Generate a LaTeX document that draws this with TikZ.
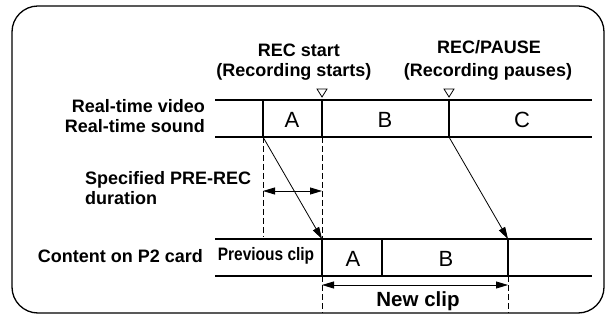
\documentclass[tikz,border=0pt]{standalone}
\usepackage{fontspec}
\setmainfont{Liberation Sans}
\usetikzlibrary{arrows.meta}
\begin{document}
\begin{tikzpicture}[x=1pt,y=-1pt,
  rowline/.style={line width=2pt},
  divider/.style={line width=2pt},
  lbl/.style={font=\fontsize{18}{20}\selectfont\bfseries, inner sep=0pt},
  seg/.style={font=\fontsize{22}{24}\selectfont, inner sep=0pt},
  arr/.style={-{Triangle[length=12pt,width=7pt]}, line width=0.8pt},
  dblarr/.style={{Triangle[length=12pt,width=7pt]}-{Triangle[length=12pt,width=7pt]}, line width=0.8pt},
  dashline/.style={dash pattern=on 6pt off 3pt, line width=0.8pt},
  marker/.style={line width=0.8pt},
  framestyle/.style={line width=1.3pt}
]
\useasboundingbox (0,0) rectangle (610,320);
\draw[framestyle] (38,6) -- (578,6) .. controls (592.4,6) and (604,17.6) .. (604,32)
  -- (604,287) .. controls (604,301.4) and (592.4,313) .. (578,313)
  -- (38,313) .. controls (23.6,313) and (12,301.4) .. (12,287)
  -- (12,32) .. controls (12,17.6) and (23.6,6) .. (38,6) -- cycle;

% top rows
\coordinate (t1L) at (215,100); \coordinate (t1R) at (592,100);
\coordinate (t2L) at (215,137); \coordinate (t2R) at (592,137);
\draw[rowline] (t1L) -- (t1R);
\draw[rowline] (t2L) -- (t2R);
\coordinate (ta1) at (263,100); \coordinate (ta2) at (263,137);
\coordinate (tb1) at (322,100); \coordinate (tb2) at (322,137);
\coordinate (tc1) at (449,100); \coordinate (tc2) at (449,137);
\draw[divider] (ta1) -- (ta2);
\draw[divider] (tb1) -- (tb2);
\draw[divider] (tc1) -- (tc2);
\node[seg, anchor=base] (tA) at (292,128) {A};
\node[seg, anchor=base] (tB) at (385,128) {B};
\node[seg, anchor=base] (tC) at (522,128) {C};

% markers
\coordinate (m1) at (322,97); \coordinate (m2) at (449,97);
\draw[marker] (m1) ++(-5,-8) -- ++(10,0) -- (m1) -- cycle;
\draw[marker] (m2) ++(-5,-8) -- ++(10,0) -- (m2) -- cycle;

% bottom rows
\coordinate (b1L) at (215,239); \coordinate (b1R) at (592,239);
\coordinate (b2L) at (215,276); \coordinate (b2R) at (592,276);
\draw[rowline] (b1L) -- (b1R);
\draw[rowline] (b2L) -- (b2R);
\coordinate (ba1) at (322,239); \coordinate (ba2) at (322,276);
\coordinate (bb1) at (382,239); \coordinate (bb2) at (382,276);
\coordinate (bc1) at (508,239); \coordinate (bc2) at (508,276);
\draw[divider] (ba1) -- (ba2);
\draw[divider] (bb1) -- (bb2);
\draw[divider] (bc1) -- (bc2);
\node[lbl, anchor=base] (prev) at (266,261) {\scalebox{0.86}[1]{Previous clip}};
\node[seg, anchor=base] (bA) at (353,267) {A};
\node[seg, anchor=base] (bB) at (446,267) {B};

% dashed guides
\coordinate (d1) at (263,237);
\coordinate (d3) at (322,313);
\coordinate (d4) at (508,313);
\draw[dashline] (ta2) -- (d1);
\draw[dashline] (tb2) -- (ba1);
\draw[dashline] (ba2) -- (d3);
\draw[dashline] (bc2) -- (d4);

% arrows
\draw[arr] (ta2) -- (ba1);
\draw[arr] (tc2) -- (bc1);
\coordinate (p1) at (263,191); \coordinate (p2) at (322,191);
\draw[dblarr] (p1) -- (p2);
\coordinate (n1) at (322,285); \coordinate (n2) at (508,285);
\draw[dblarr] (n1) -- (n2);

% labels
\node[lbl, anchor=base] (rs1) at (299,57) {REC start};
\node[lbl, anchor=base] (rs2) at (294,77) {(Recording starts)};
\node[lbl, anchor=base] (rp1) at (489,54) {REC/PAUSE};
\node[lbl, anchor=base] (rp2) at (488,77) {(Recording pauses)};
\node[lbl, anchor=base east] (rv) at (205,113) {Real-time video};
\node[lbl, anchor=base east] (rsnd) at (205,133) {Real-time sound};
\node[lbl, anchor=base west] (sp1) at (85,185) {Specified PRE-REC};
\node[lbl, anchor=base west] (sp2) at (85,205) {duration};
\node[lbl, anchor=base east] (cp) at (203,262) {Content on P2 card};
\node[lbl, anchor=base, font=\fontsize{20.5}{22}\selectfont\bfseries] (nc) at (418,306) {New clip};
\end{tikzpicture}
\end{document}
